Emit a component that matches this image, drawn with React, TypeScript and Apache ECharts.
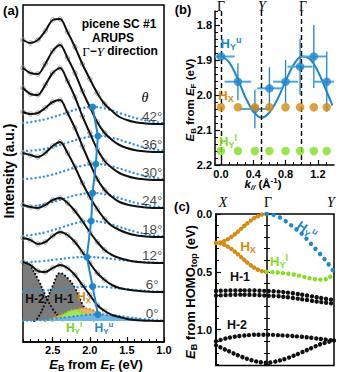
import React, { useEffect, useRef } from "react";
import * as echarts from "echarts";

// ================= Panel (a): ARUPS spectra (picene SC #1, Γ–Y) =================
const ENERGY = [2.9, 2.8, 2.7, 2.6, 2.5, 2.4, 2.3, 2.2, 2.1, 2.0, 1.9, 1.8, 1.7, 1.6, 1.5, 1.4, 1.3, 1.2, 1.1, 1.0];
const ANGLES = [0, 6, 12, 18, 24, 30, 36, 42];
const FIT_0 = [59, 56, 50, 49, 53, 56, 53, 46, 36, 26, 16, 10, 6, 4, 2, 1, 0.5, 0.2, 0, 0];
const FIT_6 = [54, 52, 48, 50, 56, 60, 57, 50, 40, 29, 19, 12, 7, 4, 2.5, 1.5, 0.8, 0.3, 0, 0];
const FIT_12 = [58, 56, 55, 58, 63, 65, 60, 52, 42, 31, 21, 13, 8, 5, 3, 1.5, 0.7, 0.3, 0, 0];
const FIT_18 = [84, 82, 80, 84, 91, 95, 84, 70, 54, 40, 28, 18, 11, 7, 4, 2, 1, 0.3, 0, 0];
const FIT_24 = [96, 94, 95, 100, 106, 108, 95, 80, 62, 45, 29, 18, 11, 6, 3.5, 2, 1, 0.3, 0, 0];
const FIT_30 = [92, 86, 85, 95, 107, 112, 99, 83, 64, 47, 31, 19, 12, 7, 4, 2, 1, 0.3, 0, 0];
const FIT_36 = [84, 79, 78, 88, 101, 107, 94, 79, 61, 45, 30, 19, 12, 7, 4, 2, 1, 0.3, 0, 0];
const FIT_42 = [84, 81, 84, 93, 104, 105, 92, 77, 60, 45, 31, 20, 13, 7, 4, 2, 1, 0.3, 0, 0];
const FITS = [FIT_0, FIT_6, FIT_12, FIT_18, FIT_24, FIT_30, FIT_36, FIT_42];
// vertical waterfall offset of each spectrum (a.u.)
const WATERFALL_OFFSET = [0, 29, 58, 84, 113, 141, 169, 197];

// H_Y^u fitted component for each angle: [E_B, intensity]
const HYU_0 = [[2.9, 0.3], [2.69, 0.8], [2.49, 2.1], [2.29, 3.9], [2.09, 5.7], [1.89, 6.5], [1.69, 5.7], [1.49, 3.9], [1.29, 2.1], [1.09, 0.8], [1.0, 0.5]];
const HYU_6 = [[2.9, 0.4], [2.762, 0.7], [2.562, 1.8], [2.362, 3.3], [2.162, 4.8], [1.962, 5.5], [1.762, 4.8], [1.562, 3.3], [1.362, 1.8], [1.162, 0.7], [1.0, 0.25]];
const HYU_12 = [[2.9, 0.6], [2.84, 0.8], [2.64, 1.9], [2.44, 3.6], [2.24, 5.3], [2.04, 6], [1.84, 5.3], [1.64, 3.6], [1.44, 1.9], [1.24, 0.8], [1.0, 0.2]];
const HYU_18 = [[2.9, 1.3], [2.781, 2.1], [2.581, 5.1], [2.381, 9.6], [2.181, 14], [1.981, 16], [1.781, 14], [1.581, 9.6], [1.381, 5.1], [1.181, 2.1], [1.0, 0.6]];
const HYU_24 = [[2.9, 1.0], [2.762, 2.0], [2.562, 4.8], [2.362, 9], [2.162, 13.2], [1.962, 15], [1.762, 13.2], [1.562, 9], [1.362, 4.8], [1.162, 2.0], [1.0, 0.7]];
const HYU_30 = [[2.9, 0.9], [2.719, 2.1], [2.519, 5.1], [2.319, 9.6], [2.119, 14], [1.919, 16], [1.719, 14], [1.519, 9.6], [1.319, 5.1], [1.119, 2.1], [1.0, 1.0]];
const HYU_36 = [[2.9, 0.8], [2.69, 2.1], [2.49, 5.1], [2.29, 9.6], [2.09, 14], [1.89, 16], [1.69, 14], [1.49, 9.6], [1.29, 5.1], [1.09, 2.1], [1.0, 1.3]];
const HYU_42 = [[2.9, 1.2], [2.762, 2.3], [2.562, 5.5], [2.362, 10], [2.162, 15], [1.962, 17], [1.762, 15], [1.562, 10], [1.362, 5.5], [1.162, 2.3], [1.0, 0.8]];
const HYU_CURVES = [HYU_0, HYU_6, HYU_12, HYU_18, HYU_24, HYU_30, HYU_36, HYU_42];
const HYU_AMP = [6.5, 5.5, 6, 16, 15, 16, 16, 17];

// 0° components
const H2_E = [2.9, 2.85, 2.8, 2.7, 2.6, 2.5, 2.4, 2.35];
const H2_I = [57, 58, 55, 42, 26, 12, 3, 0];
const H1_E = [2.75, 2.7, 2.6, 2.5, 2.4, 2.3, 2.2, 2.1, 2.0, 1.9];
const H1_I = [0, 3, 18, 35, 48, 43, 33, 17, 5, 0];
const HX_E = [2.6, 2.5, 2.4, 2.3, 2.2, 2.1, 2.0, 1.9, 1.8, 1.7, 1.6, 1.5];
const HX_I = [0, 3, 6, 8, 11, 13, 12, 9, 6, 4, 2, 0];
const HYL_E = [2.5, 2.4, 2.3, 2.2, 2.1, 2.0, 1.95];
const HYL_I = [0, 4, 9, 11, 8, 2, 0];

// ================= Panel (b): peak positions vs k// =================
const K_PAR = [0.0, 0.21, 0.42, 0.6, 0.8, 0.98, 1.15, 1.31];
const HYU_EB = [1.89, 1.962, 2.04, 1.981, 1.962, 1.919, 1.89, 1.962];
const HYU_KERR = [0.17, 0.165, 0.185, 0.155, 0.155, 0.155, 0.155, 0.17];
const HYU_EERR = [0, 0.053, 0.055, 0.06, 0.062, 0.08, 0.09, 0.086];
const HX_EB = [2.035, 2.035, 2.035, 2.035, 2.035, 2.035, 2.035, 2.035];
const HYL_EB = [2.16, 2.16, 2.16, 2.16, 2.16, 2.16, 2.16, 2.16];
const COS_K = [0, 0.1, 0.2, 0.3, 0.4, 0.5, 0.6, 0.7, 0.8, 0.9, 1.0, 1.1, 1.2, 1.3, 1.38];
const COS_EB = [1.889, 1.906, 1.95, 2.005, 2.047, 2.065, 2.05, 2.012, 1.96, 1.914, 1.89, 1.897, 1.932, 1.985, 2.03];
const SYM_K = [0, 0.5, 1.0];

// ================= Panel (c): calculated bands (X–Γ–Y) =================
const XG_K = [-0.5, -0.45, -0.4, -0.35, -0.3, -0.25, -0.2, -0.15, -0.1, -0.05, 0];
const GY_K = [0, 0.066, 0.132, 0.198, 0.264, 0.33, 0.396, 0.462, 0.528, 0.594, 0.66];
const BAND_HX_UP = [0.25, 0.244, 0.226, 0.199, 0.164, 0.125, 0.086, 0.051, 0.024, 0.006, 0];
const BAND_HX_LO = [0.25, 0.256, 0.274, 0.301, 0.336, 0.375, 0.414, 0.449, 0.476, 0.494, 0.5];
const BAND_HYU = [0, 0.008, 0.032, 0.07, 0.115, 0.16, 0.22, 0.285, 0.35, 0.42, 0.5];
const BAND_HYL = [0.5, 0.503, 0.508, 0.515, 0.523, 0.535, 0.55, 0.562, 0.567, 0.56, 0.515];
const H1_K = [-0.5, -0.25, 0, 0.165, 0.33, 0.495, 0.66];
const BAND_H1A = [0.665, 0.66, 0.665, 0.675, 0.695, 0.72, 0.745];
const BAND_H1B = [0.705, 0.697, 0.705, 0.715, 0.735, 0.757, 0.775];
const H2_K = [-0.5, -0.4, -0.3, -0.2, -0.1, 0, 0.132, 0.264, 0.396, 0.528, 0.66];
const BAND_H2A = [1.1, 1.075, 1.058, 1.048, 1.043, 1.043, 1.048, 1.055, 1.065, 1.08, 1.093];
const BAND_H2B = [1.135, 1.175, 1.215, 1.25, 1.275, 1.285, 1.265, 1.225, 1.175, 1.125, 1.093];

// ================= styling =================
const SANS = '"Liberation Sans", Arial, Helvetica, sans-serif';
const SERIF = '"Liberation Serif", "Times New Roman", serif';
const BLUE = "#1f86cb";
const LBLUE = "#4fa6de";
const ORANGE = "#d38b10";
const GREEN = "#80e01f";
const BLACK = "#111";

const pairs = (xs: number[], ys: number[], off = 0) => xs.map((x, i) => [x, ys[i] + off]);
const dotted = (color: string, width: number, gap: number) => ({ color, width, type: [0.01, gap], cap: "round" });

function richSet(size: number, color: string) {
  const s = Math.round(size * 0.7);
  const base: any = { fontFamily: SANS, fontWeight: "bold", fontSize: size, fill: color, color, lineHeight: size + 3 };
  return {
    n: base,
    i: { ...base, fontStyle: "italic" },
    sub: { ...base, fontSize: s, lineHeight: s, verticalAlign: "bottom" },
    subi: { ...base, fontStyle: "italic", fontSize: s, lineHeight: s, verticalAlign: "bottom" },
    sup: { ...base, fontSize: s, lineHeight: s + 2, verticalAlign: "top" },
    sr: { fontFamily: SERIF, fontSize: size + 1, fill: color, color, lineHeight: size + 3 },
    si: { fontFamily: SERIF, fontStyle: "italic", fontSize: size + 1, fill: color, color, lineHeight: size + 3 },
  };
}

function T(x: number, y: number, text: string, size: number, color: string, opts: any = {}) {
  return {
    type: "text",
    x,
    y,
    rotation: opts.rotation || 0,
    z: 100,
    silent: true,
    style: {
      text,
      fill: color,
      font: `${opts.style || "normal"} ${opts.weight || "bold"} ${size}px ${opts.family || SANS}`,
      align: opts.align || "center",
      verticalAlign: "middle",
      textAlign: opts.align || "center",
      textVerticalAlign: "middle",
      rich: richSet(size, color),
    },
  };
}

const tickLabel = { color: "#000", fontFamily: SANS, fontWeight: "bold", fontSize: 11 };

function buildOption() {
  const series: any[] = [];

  // ---- panel (a) component fills (0°) ----
  series.push({
    type: "line", xAxisIndex: 0, yAxisIndex: 0, data: pairs(H2_E, H2_I), smooth: 0.4, symbol: "none",
    lineStyle: dotted(BLACK, 2.2, 3.6), areaStyle: { color: "#7b7b7b", opacity: 1 }, z: 2,
  });
  series.push({
    type: "line", xAxisIndex: 0, yAxisIndex: 0, data: pairs(H1_E, H1_I), smooth: 0.4, symbol: "none",
    lineStyle: dotted(BLACK, 2.2, 3.6), areaStyle: { color: "#7b7b7b", opacity: 1 }, z: 2,
  });
  series.push({
    type: "line", xAxisIndex: 0, yAxisIndex: 0, data: pairs(HX_E, HX_I), smooth: 0.4, symbol: "none",
    lineStyle: dotted(ORANGE, 2.2, 3.6), areaStyle: { color: "#e0b673", opacity: 1 }, z: 3,
  });
  series.push({
    type: "line", xAxisIndex: 0, yAxisIndex: 0, data: pairs(HYL_E, HYL_I), smooth: 0.4, symbol: "none",
    lineStyle: dotted(GREEN, 2.2, 3.6), areaStyle: { color: "#9fe65e", opacity: 1 }, z: 4,
  });
  // H_Y^u dotted curves (0° one is filled)
  HYU_CURVES.forEach((c, i) => {
    series.push({
      type: "line", xAxisIndex: 0, yAxisIndex: 0,
      data: c.map(([e, v]) => [e, v + WATERFALL_OFFSET[i]]),
      smooth: 0.4, symbol: "none", lineStyle: dotted("#2f93d6", 2.4, 4.2),
      areaStyle: i === 0 ? { color: "#6fb6e6", opacity: 1 } : undefined,
      z: i === 0 ? 5 : 6,
    });
  });
  // gray measured points (on the fit)
  const pts: number[][] = [];
  FITS.forEach((f, i) => ENERGY.forEach((e, j) => { if (e >= 1.8) pts.push([e, f[j] + WATERFALL_OFFSET[i]]); }));
  series.push({
    type: "scatter", xAxisIndex: 0, yAxisIndex: 0, data: pts, symbol: "circle", symbolSize: 4.5,
    itemStyle: { color: "rgba(0,0,0,0)", borderColor: "#8c8c8c", borderWidth: 1 }, z: 6, silent: true,
  });
  // fits
  FITS.forEach((f, i) => {
    series.push({
      type: "line", xAxisIndex: 0, yAxisIndex: 0, data: pairs(ENERGY, f, WATERFALL_OFFSET[i]),
      smooth: 0.3, symbol: "none", lineStyle: { color: BLACK, width: 2 }, z: 7,
    });
  });
  // H_Y^u peak positions
  series.push({
    type: "line", xAxisIndex: 0, yAxisIndex: 0,
    data: ANGLES.map((_, i) => [HYU_EB[i], WATERFALL_OFFSET[i] + HYU_AMP[i]]),
    symbol: "circle", symbolSize: 7, itemStyle: { color: BLUE }, lineStyle: { color: BLUE, width: 2 }, z: 8,
  });
  // angle labels
  series.push({
    type: "scatter", xAxisIndex: 0, yAxisIndex: 0, symbolSize: 0, z: 9, silent: true,
    data: ANGLES.map((a, i) => ({ value: [1.16, WATERFALL_OFFSET[i] + 8], name: `${a}°` })),
    label: { show: true, position: "inside", formatter: "{b}", color: BLACK, fontFamily: SANS, fontSize: 13.5 },
  });

  // ---- panel (b) ----
  series.push({
    type: "line", xAxisIndex: 2, yAxisIndex: 1, data: pairs(COS_K, COS_EB), smooth: 0.4, symbol: "none",
    lineStyle: { color: BLUE, width: 2 }, z: 3,
    markLine: {
      silent: true, symbol: ["none", "none"], label: { show: false },
      lineStyle: { color: "#000", width: 1.4, type: [5, 3] },
      data: SYM_K.map((k) => ({ xAxis: k })),
    },
  });
  series.push({
    type: "custom", xAxisIndex: 2, yAxisIndex: 1, z: 4, silent: true,
    data: K_PAR.map((k, i) => [k, HYU_EB[i], HYU_KERR[i], HYU_EERR[i]]),
    renderItem: (params: any, api: any) => {
      const k = api.value(0), e = api.value(1), dk = api.value(2), de = api.value(3);
      const kl = Math.max(-0.074, k - dk), kr = Math.min(1.4, k + dk);
      const l = api.coord([kl, e]), r = api.coord([kr, e]);
      const t = api.coord([k, e - de]), b = api.coord([k, e + de]);
      return {
        type: "group",
        children: [
          { type: "line", shape: { x1: l[0], y1: l[1], x2: r[0], y2: r[1] }, style: { stroke: LBLUE, lineWidth: 2 } },
          { type: "line", shape: { x1: t[0], y1: t[1], x2: b[0], y2: b[1] }, style: { stroke: BLUE, lineWidth: 1.3 } },
        ],
      };
    },
  });
  series.push({ type: "scatter", xAxisIndex: 2, yAxisIndex: 1, data: pairs(K_PAR, HYU_EB), symbolSize: 8.5, itemStyle: { color: BLUE }, z: 5 });
  series.push({ type: "scatter", xAxisIndex: 2, yAxisIndex: 1, data: pairs(K_PAR, HX_EB), symbolSize: 8.5, itemStyle: { color: ORANGE }, z: 5 });
  series.push({ type: "scatter", xAxisIndex: 2, yAxisIndex: 1, data: pairs(K_PAR, HYL_EB), symbolSize: 8.5, itemStyle: { color: GREEN }, z: 5 });

  // ---- panel (c) ----
  const band = (xs: number[], ys: number[], color: string, gap: number) => ({
    type: "line", xAxisIndex: 4, yAxisIndex: 3, data: pairs(xs, ys), smooth: 0.3, symbol: "none",
    lineStyle: dotted(color, 4.4, gap), z: 5, silent: true,
  });
  series.push(band(XG_K, BAND_HX_UP, ORANGE, 4.2));
  series.push(band(XG_K, BAND_HX_LO, ORANGE, 4.2));
  series.push(band(GY_K, BAND_HYU, BLUE, 6.8));
  series.push(band(GY_K, BAND_HYL, GREEN, 5.4));
  series.push(band(H1_K, BAND_H1A, BLACK, 4.8));
  series.push(band(H1_K, BAND_H1B, BLACK, 4.8));
  series.push(band(H2_K, BAND_H2A, BLACK, 4.8));
  series.push(band(H2_K, BAND_H2B, BLACK, 4.8));

  const noAxis = { axisLine: { show: false }, axisTick: { show: false }, axisLabel: { show: false }, splitLine: { show: false } };
  const axLine = { show: true, onZero: false, lineStyle: { color: "#000", width: 1.5 } };

  const xAxis: any[] = [
    {
      gridIndex: 0, type: "value", position: "bottom", min: 1.0, max: 2.9, inverse: true, interval: 0.5,
      axisLine: axLine, axisTick: { show: true, inside: true, length: 5, lineStyle: { color: "#000", width: 1.2 } },
      axisLabel: { ...tickLabel, margin: 2, showMaxLabel: false, formatter: (v: number) => v.toFixed(1) },
      splitLine: { show: false },
    },
    {
      gridIndex: 0, type: "value", position: "bottom", min: 1.0, max: 2.9, inverse: true, interval: 0.1,
      axisLine: { show: false, onZero: false }, axisTick: { show: true, inside: true, length: 3, lineStyle: { color: "#000", width: 1 } },
      axisLabel: { show: false }, splitLine: { show: false },
    },
    {
      gridIndex: 1, type: "value", position: "bottom", min: -0.074, max: 1.4,
      axisLine: axLine,
      axisTick: { show: true, inside: true, length: 5, customValues: [0, 0.4, 0.8, 1.2], lineStyle: { color: "#000", width: 1.2 } },
      axisLabel: { ...tickLabel, margin: 3, customValues: [0, 0.4, 0.8, 1.2], formatter: (v: number) => v.toFixed(1) },
      splitLine: { show: false },
    },
    {
      gridIndex: 1, type: "value", position: "bottom", min: -0.074, max: 1.4,
      axisLine: { show: false, onZero: false },
      axisTick: { show: true, inside: true, length: 3, customValues: [0.1, 0.2, 0.3, 0.5, 0.6, 0.7, 0.9, 1.0, 1.1, 1.3], lineStyle: { color: "#000", width: 1 } },
      axisLabel: { show: false }, splitLine: { show: false },
    },
    { gridIndex: 2, type: "value", position: "bottom", min: -0.5, max: 0.66, ...noAxis, axisLine: { show: false, onZero: false } },
  ];

  const yAxis: any[] = [
    { gridIndex: 0, type: "value", position: "left", min: -21, max: 316, ...noAxis, axisLine: { show: false, onZero: false } },
    {
      gridIndex: 1, type: "value", position: "left", min: 1.76, max: 2.2, inverse: true,
      axisLine: axLine,
      axisTick: { show: true, inside: true, length: 5, customValues: [1.8, 1.9, 2.0, 2.1, 2.2], lineStyle: { color: "#000", width: 1.2 } },
      axisLabel: { ...tickLabel, margin: 3, customValues: [1.8, 1.9, 2.0, 2.1, 2.2], formatter: (v: number) => v.toFixed(1) },
      splitLine: { show: false },
    },
    {
      gridIndex: 1, type: "value", position: "left", min: 1.76, max: 2.2, inverse: true, interval: 0.02,
      axisLine: { show: false, onZero: false }, axisTick: { show: true, inside: true, length: 3, lineStyle: { color: "#000", width: 1 } },
      axisLabel: { show: false }, splitLine: { show: false },
    },
    {
      gridIndex: 2, type: "value", position: "left", min: 0, max: 1.31, inverse: true,
      axisLine: axLine,
      axisTick: { show: true, inside: true, length: 5, customValues: [0, 0.5, 1.0], lineStyle: { color: "#000", width: 1.2 } },
      axisLabel: { ...tickLabel, margin: 4, customValues: [0, 0.5, 1.0], formatter: (v: number) => v.toFixed(1) },
      splitLine: { show: false },
    },
    {
      gridIndex: 2, type: "value", position: "left", min: 0, max: 1.31, inverse: true, interval: 0.1,
      axisLine: { show: false, onZero: false }, axisTick: { show: true, inside: true, length: 3, lineStyle: { color: "#000", width: 1 } },
      axisLabel: { show: false }, splitLine: { show: false },
    },
    {
      gridIndex: 2, type: "value", position: "left", offset: -51, min: 0, max: 1.31, inverse: true, interval: 0.1,
      axisLine: axLine, axisTick: { show: true, inside: true, length: 3, lineStyle: { color: "#000", width: 1 } },
      axisLabel: { show: false }, splitLine: { show: false },
    },
    {
      gridIndex: 2, type: "value", position: "right", offset: -67, min: 0, max: 1.31, inverse: true, interval: 0.1,
      axisLine: { show: false, onZero: false }, axisTick: { show: true, inside: true, length: 3, lineStyle: { color: "#000", width: 1 } },
      axisLabel: { show: false }, splitLine: { show: false },
    },
  ];

  const graphic: any[] = [
    // panel (a)
    T(11, 10, "(a)", 13, "#000"),
    T(119, 24, "picene SC #1", 12, "#000"),
    T(113, 37.5, "ARUPS", 12, "#000"),
    T(120, 51, "{sr|Γ}{n|−}{si|Y}{n| direction}", 12, "#000"),
    T(145, 97, "θ", 14, "#000", { style: "italic", weight: "normal", family: SERIF }),
    T(9, 171, "Intensity (a.u.)", 14, "#000", { rotation: Math.PI / 2 }),
    T(96, 364.5, "{i|E}{sub|B}{n| from }{i|E}{sub|F}{n| (eV)}", 13, "#000"),
    T(35, 299, "H-2", 12, BLACK),
    T(64, 299, "H-1", 12, BLACK),
    T(84, 297, "{n|H}{sub|X}", 12, ORANGE),
    T(74, 328, "{n|H}{sub|Y}{sup|l}", 12, "#74d81c"),
    T(104, 328, "{n|H}{sub|Y}{sup|u}", 12, BLUE),
    // panel (b)
    T(183, 9, "(b)", 13, "#000"),
    T(221, 6, "Γ", 14, "#000", { weight: "normal", family: SERIF }),
    T(262, 6, "Y", 14, "#000", { weight: "normal", style: "italic", family: SERIF }),
    T(303, 6, "Γ", 14, "#000", { weight: "normal", family: SERIF }),
    T(231, 43, "{n|H}{sub|Y}{sup|u}", 13, BLUE),
    T(226, 95, "{n|H}{sub|X}", 13, ORANGE),
    T(228, 141, "{n|H}{sub|Y}{sup|l}", 13, GREEN),
    T(190, 100, "{i|E}{sub|B}{n| from }{i|E}{sub|F}{n| (eV)}", 11.5, "#000", { rotation: Math.PI / 2 }),
    T(263, 184, "{i|k}{subi|//}{n| (Å}{sup|-1}{n|)}", 11.5, "#000"),
    // panel (c)
    T(182, 206, "(c)", 13, "#000"),
    T(223, 202, "X", 14, "#000", { weight: "normal", style: "italic", family: SERIF }),
    T(268, 202, "Γ", 14, "#000", { weight: "normal", family: SERIF }),
    T(331, 202, "Y", 14, "#000", { weight: "normal", style: "italic", family: SERIF }),
    T(190, 292, "{i|E}{sub|B}{n| from HOMO}{sub|top}{n| (eV)}", 13, "#000", { rotation: Math.PI / 2 }),
    T(248, 246, "{n|H}{sub|X}", 13.5, ORANGE),
    T(307, 230, "{n|H}{sub|Y}{sup|u}", 13, BLUE, { rotation: -0.6 }),
    T(279, 261, "{n|H}{sub|Y}{sup|l}", 13, GREEN),
    T(240, 277, "H-1", 12.5, BLACK),
    T(237, 325, "H-2", 12.5, BLACK),
  ];

  return {
    animation: false,
    backgroundColor: "#fff",
    grid: [
      { left: 23, top: 5, width: 141, height: 337, show: true, borderColor: "#000", borderWidth: 1.5, backgroundColor: "transparent" },
      { left: 215, top: 11, width: 119, height: 154 },
      { left: 216, top: 214, width: 118, height: 151.6, show: true, borderColor: "#000", borderWidth: 1.5, backgroundColor: "transparent" },
    ],
    xAxis,
    yAxis,
    series,
    graphic,
  };
}

export default function App() {
  const ref = useRef<HTMLDivElement>(null);
  useEffect(() => {
    if (!ref.current) return;
    const chart = echarts.init(ref.current, undefined, { renderer: "svg" });
    chart.setOption(buildOption() as any);
    return () => chart.dispose();
  }, []);
  return <div ref={ref} style={{ position: "absolute", left: 0, top: 0, width: 339, height: 372 }} />;
}
